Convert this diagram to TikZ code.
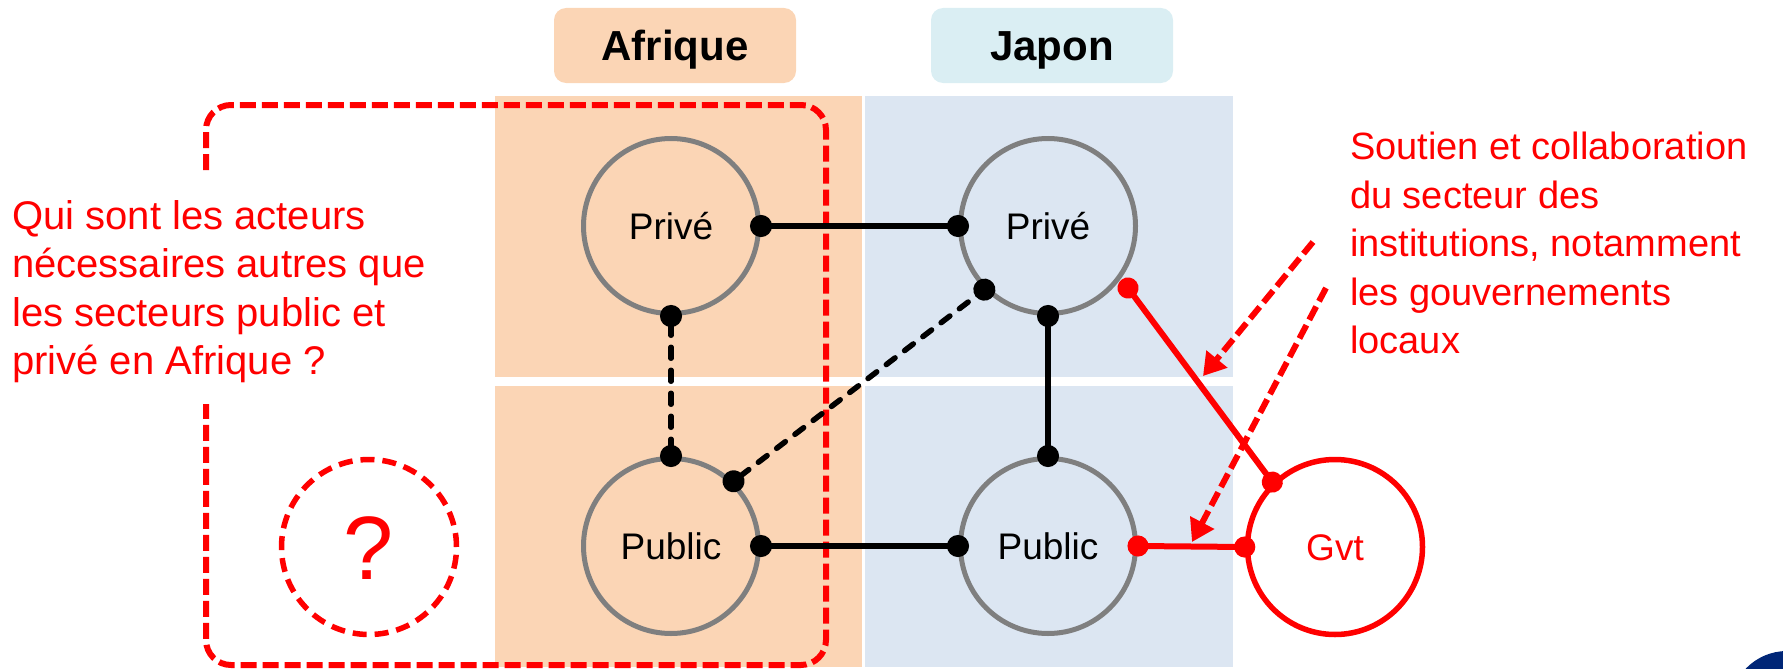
\documentclass[tikz,border=0pt]{standalone}
\usepackage{fontspec}
\setmainfont{Liberation Sans}
\usetikzlibrary{arrows.meta}
\definecolor{afr}{RGB}{251,213,181}
\definecolor{jpn}{RGB}{220,230,242}
\definecolor{jpnhead}{RGB}{218,238,243}
\definecolor{gry}{RGB}{127,127,127}
\definecolor{rouge}{RGB}{255,0,0}
\definecolor{navy}{RGB}{0,38,119}

\begin{document}
\begin{tikzpicture}[x=10pt,y=-10pt,
  actor/.style={circle,draw=gry,line width=5pt,minimum size=175pt,inner sep=0pt,font=\fontsize{37}{44}\selectfont,text height=26.5pt,text depth=0pt},
  head/.style={rounded corners=12pt,minimum width=242pt,minimum height=75pt,font=\bfseries\fontsize{42}{50}\selectfont,text height=30pt,text depth=0pt},
  lnk/.style={line width=5.5pt,{Circle[length=22pt]}-{Circle[length=22pt]},shorten <=-11pt,shorten >=-11pt},
  dlnk/.style={lnk,dash pattern=on 11pt off 12pt,line cap=round},
  rlnk/.style={rouge,line width=6pt,{Circle[length=21pt]}-{Circle[length=21pt]},shorten <=-10.5pt,shorten >=-10.5pt},
  rarr/.style={rouge,line width=6pt,dash pattern=on 15pt off 6pt,-{Triangle[length=22pt,width=26pt]}},
  rbox/.style={rouge,line width=6pt,dash pattern=on 16pt off 6pt,rounded corners=25pt},
  note/.style={rouge,anchor=north west,align=left,inner sep=0pt}]
  \useasboundingbox (0,0) rectangle (178.3,66.9);

  % columns
  \fill[afr] (49.5,9.6) rectangle (86.2,37.7);
  \fill[afr] (49.5,38.6) rectangle (86.2,66.7);
  \fill[jpn] (86.5,9.6) rectangle (123.3,37.7);
  \fill[jpn] (86.5,38.6) rectangle (123.3,66.7);
  \node[head,fill=afr] (hafr) at (67.5,4.55) {Afrique};
  \node[head,fill=jpnhead] (hjpn) at (105.2,4.55) {Japon};

  % logo corner
  \fill[navy] (178.7,70.8) circle (57pt);

  % actors
  \node[actor] (pa) at (67.1,22.6) {Privé};
  \node[actor] (ba) at (67.1,54.6) {Public};
  \node[actor] (pj) at (104.8,22.6) {Privé};
  \node[actor] (bj) at (104.8,54.6) {Public};
  \node[actor,draw=rouge,line width=5.5pt,text=rouge] (gvt) at (133.5,54.7) {Gvt};
  \node[actor,draw=rouge,line width=5.5pt,dash pattern=on 14pt off 8pt,text=rouge,font=\fontsize{90}{100}\selectfont,text height=65pt] (qq) at (36.9,54.7) {?};

  \draw[rbox] (20.6,17.0) -- (20.6,10.5) -- (82.6,10.5) -- (82.6,66.5) -- (20.6,66.5) -- (20.6,40.4);

  \node[note,font=\fontsize{40}{48.5}\selectfont] (qtxt) at (1.2,20.0) {Qui sont les acteurs\\nécessaires autres que\\les secteurs public et\\privé en Afrique ?};
  \node[note,font=\fontsize{38}{48.5}\selectfont] (stxt) at (135.0,13.2) {Soutien et collaboration\\du secteur des\\institutions, notamment\\les gouvernements\\locaux};

  % links
  \draw[lnk] (pa.east) -- (pj.west);
  \draw[lnk] (ba.east) -- (bj.west);
  \draw[lnk] (pj.south) -- (bj.north);
  \draw[dlnk] (pa.south) -- (ba.north);
  \draw[dlnk] (ba.46) -- (pj.225);

  \coordinate (rs) at (112.8,28.8);
  \draw[rlnk] (rs) -- (gvt.134);
  \draw[rlnk] (bj.east) -- (gvt.west);

  \coordinate (a1) at (131.3,24.2);
  \coordinate (t1) at (120.3,37.6);
  \coordinate (a2) at (132.6,28.8);
  \coordinate (t2) at (119.2,54.2);
  \draw[rarr] (a1) -- (t1);
  \draw[rarr] (a2) -- (t2);
\end{tikzpicture}
\end{document}
